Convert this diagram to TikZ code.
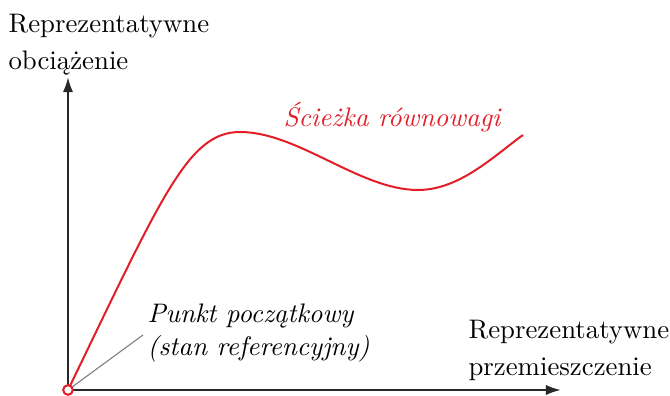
\documentclass[tikz,border=0pt]{standalone}
\usetikzlibrary{arrows.meta}
\definecolor{pathred}{RGB}{226,30,40}
\definecolor{axisgray}{RGB}{40,40,40}
\definecolor{leadgray}{RGB}{125,125,125}
\begin{document}
\begin{tikzpicture}[x=0.3731pt,y=-0.3731pt,
  axis/.style={draw=axisgray,line width=0.8pt,-{Latex[length=5.6pt,width=3.8pt]}},
  lbl/.style={inner sep=0pt,align=left,anchor=base west,font=\fontsize{10}{14}\selectfont},
  ilbl/.style={inner sep=0pt,align=left,anchor=base west,font=\itshape\fontsize{10}{12.4}\selectfont},
  pathline/.style={draw=pathred,line width=0.75pt},
  lead/.style={draw=leadgray,line width=0.4pt}]
\useasboundingbox (0,0) rectangle (670,396);
\coordinate (O) at (68,390);
\coordinate (ytip) at (68,77);
\coordinate (xtip) at (561,390);
\coordinate (peak) at (240,132);
\coordinate (valley) at (418,190);
\coordinate (pend) at (523,135);
\coordinate (leadend) at (143,335);
\draw[axis] (O) -- (ytip);
\draw[axis] (O) -- (xtip);
\draw[lead] (O) -- (leadend);
\draw[pathline] (O) .. controls (162,196) and (188,132) .. (peak)
  .. controls (298,132) and (360,190) .. (valley)
  .. controls (460,190) and (495,155) .. (pend);
\node[circle,draw=pathred,fill=white,line width=0.75pt,inner sep=0pt,minimum size=3.6pt] (start) at (O) {};
\node[lbl] (ylab) at (8,70) {Reprezentatywne\\obciążenie};
\node[lbl] (xlab) at (468,376) {Reprezentatywne\\przemieszczenie};
\node[ilbl] (ptlab) at (147,356) {Punkt początkowy\\(stan referencyjny)};
\node[inner sep=0pt,anchor=base west,font=\itshape,text=pathred] (eqlab) at (283,127) {Ścieżka równowagi};
\end{tikzpicture}
\end{document}
